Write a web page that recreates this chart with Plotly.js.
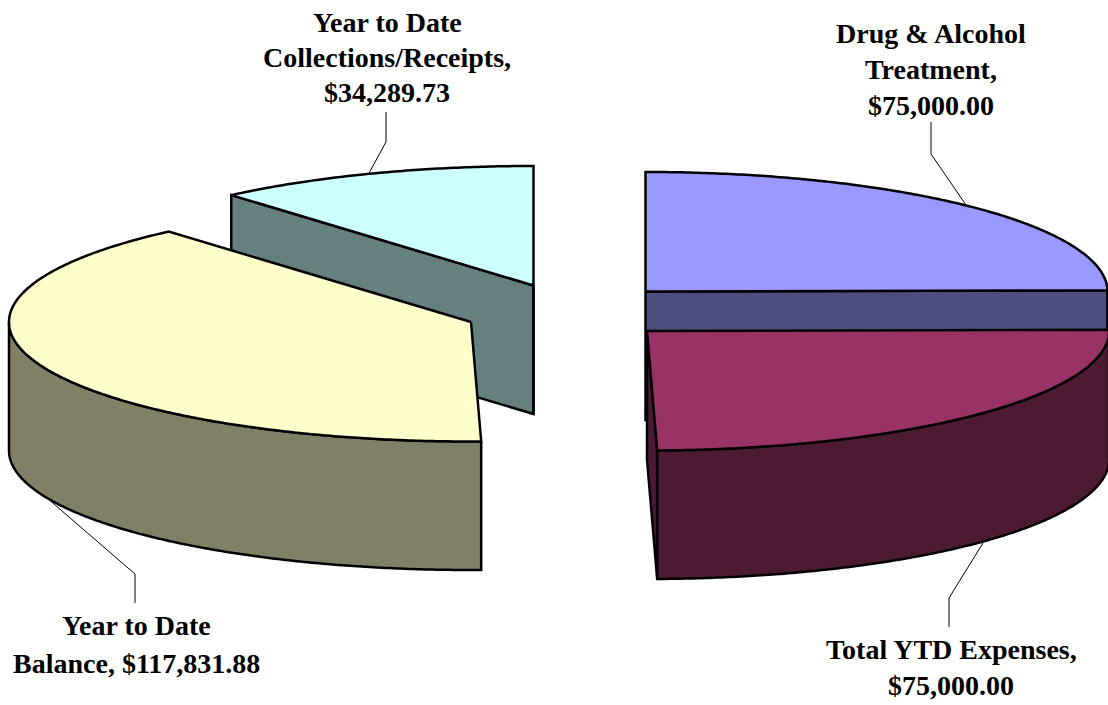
<!DOCTYPE html>
<html><head><meta charset="utf-8">
<script src="https://cdn.plot.ly/plotly-3.0.1.min.js"></script>
<style>html,body{margin:0;padding:0;background:#fff}#c{width:1108px;height:705px}</style>
</head><body><div id="c"></div>
<script>
// Data
const categories = ["Drug & Alcohol Treatment", "Total YTD Expenses", "Year to Date Balance", "Year to Date Collections/Receipts"];
const values = [75000.00, 75000.00, 117831.88, 34289.73];
const labelLines = [
  ["Drug & Alcohol", "Treatment,"],
  ["Total YTD Expenses,"],
  ["Year to Date", "Balance,"],
  ["Year to Date", "Collections/Receipts,"]
];
const topColors = ["#9999FF", "#993366", "#FFFFCC", "#CCFFFF"];
const sideColors = ["#4D4D80", "#4D1A33", "#808066", "#668080"];

// Drawing set-up (pixels of the photographed page)
const W = 1108, H = 705, RX = 462, RY = 119.5, DEPTH = 128.5;
const apex = [[645.5, 291.5], [647, 331], [471, 322], [533.5, 285.5]];
const leaders = [
  [[966, 205], [931, 154], [931, 122]],
  [[983, 543], [949, 598], [949, 627]],
  [[47, 498], [135, 574], [135, 603]],
  [[368, 175], [386, 142], [386, 112]]
];
const labelPos = [
  {x: 931, ys: [33, 69, 105]},
  {x: 951, ys: [649, 685]},
  {x: 136, ys: [625, 663]},
  {x: 387, ys: [22, 57, 92]}
];
const TEXT_SIZE = 28;

const total = values.reduce((a, b) => a + b, 0);
let acc = 0;
const slices = values.map(v => { const s = acc / total * 360; acc += v; return [s, acc / total * 360]; });
const pt = (i, deg, dy) => {
  const t = deg * Math.PI / 180;
  return [apex[i][0] + RX * Math.sin(t), apex[i][1] - RY * Math.cos(t) + (dy || 0)];
};
const arc = (i, a, b, dy) => {
  const n = Math.max(2, Math.ceil(Math.abs(b - a) * 2)), out = [];
  for (let k = 0; k <= n; k++) out.push(pt(i, a + (b - a) * k / n, dy));
  return out;
};
const poly = (pts, fill) => ({
  type: "scatter", mode: "lines", x: pts.map(p => p[0]), y: pts.map(p => p[1]),
  fill: "toself", fillcolor: fill, line: {color: "#000", width: 2.5, simplify: false},
  hoverinfo: "skip", showlegend: false
});
const wall = (i, deg, fill) => {
  const a = apex[i], p = pt(i, deg);
  return poly([a, p, [p[0], p[1] + DEPTH], [a[0], a[1] + DEPTH], a], fill);
};
const rim = (i, a, b, fill) => {
  const top = arc(i, a, b), bot = arc(i, b, a, DEPTH);
  return poly(top.concat(bot, [top[0]]), fill);
};
const cap = (i, a, b, fill) => poly([apex[i]].concat(arc(i, a, b), [apex[i]]), fill);

const traces = [];
// back-left slice (collections)
traces.push(wall(3, slices[3][0], sideColors[3]));
traces.push(poly([apex[3], [apex[3][0], apex[3][1] + DEPTH], [apex[3][0], apex[3][1]]], sideColors[3]));
traces.push(cap(3, slices[3][0], slices[3][1], topColors[3]));
// front-left slice (balance)
traces.push(rim(2, slices[2][0], 270, sideColors[2]));
traces.push(cap(2, slices[2][0], slices[2][1], topColors[2]));
// back-right slice (drug & alcohol)
traces.push(wall(0, slices[0][1], sideColors[0]));
traces.push(cap(0, slices[0][0], slices[0][1], topColors[0]));
// front-right slice (expenses)
traces.push(wall(1, slices[1][1], sideColors[1]));
traces.push(rim(1, slices[1][0], slices[1][1], sideColors[1]));
traces.push(cap(1, slices[1][0], slices[1][1], topColors[1]));
// leader lines
leaders.forEach(l => traces.push({
  type: "scatter", mode: "lines", x: l.map(p => p[0]), y: l.map(p => p[1]),
  line: {color: "#000", width: 1}, hoverinfo: "skip", showlegend: false
}));

const money = v => "$" + v.toLocaleString("en-US", {minimumFractionDigits: 2, maximumFractionDigits: 2});
const annotations = [];
values.forEach((v, i) => {
  const lines = labelLines[i].slice();
  if (i === 2) lines[lines.length - 1] += " " + money(v); else lines.push(money(v));
  lines.forEach((txt, k) => annotations.push({
    x: labelPos[i].x, y: labelPos[i].ys[k], xref: "x", yref: "y", text: "<b>" + txt.replace("&", "&amp;") + "</b>",
    showarrow: false, xanchor: "center", yanchor: "middle",
    font: {family: "Liberation Serif", size: TEXT_SIZE, color: "#000"}
  }));
});

Plotly.newPlot("c", traces, {
  width: W, height: H, margin: {l: 0, r: 0, t: 0, b: 0},
  paper_bgcolor: "#fff", plot_bgcolor: "#fff", showlegend: false,
  xaxis: {range: [0, W], visible: false, fixedrange: true},
  yaxis: {range: [H, 0], visible: false, fixedrange: true},
  annotations
}, {staticPlot: true, displayModeBar: false});
</script></body></html>
